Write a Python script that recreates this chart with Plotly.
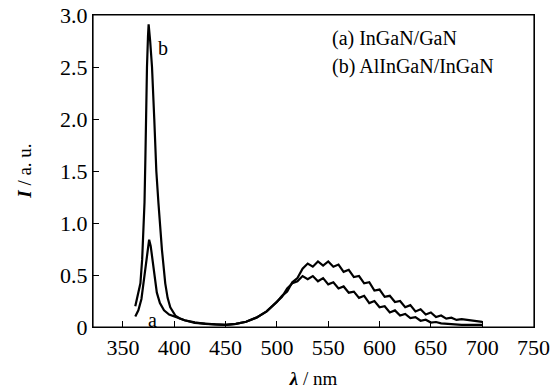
import plotly.graph_objects as go

# Curve a: InGaN/GaN
lam_a = [362, 365, 368, 370, 372, 374, 375.5, 377, 379, 381, 383, 386, 390, 395, 400, 405, 410, 420, 430, 440, 450,
         460, 470, 480, 490, 500, 505, 510, 515, 520, 525, 530, 535, 540, 545, 550, 555, 560, 565, 570, 575, 580,
         585, 590, 595, 600, 605, 610, 615, 620, 625, 630, 635, 640, 645, 650, 655, 660, 665, 670, 675, 680, 690, 700]
int_a = [0.10, 0.16, 0.27, 0.42, 0.60, 0.76, 0.84, 0.78, 0.62, 0.44, 0.33, 0.23, 0.16, 0.12, 0.10, 0.08, 0.065, 0.045, 0.03, 0.025, 0.02,
         0.03, 0.05, 0.09, 0.15, 0.24, 0.30, 0.34, 0.43, 0.47, 0.56, 0.61, 0.58, 0.63, 0.59, 0.63, 0.58, 0.60, 0.53, 0.55, 0.48, 0.49,
         0.42, 0.43, 0.35, 0.36, 0.29, 0.30, 0.24, 0.25, 0.19, 0.21, 0.15, 0.17, 0.12, 0.14, 0.095, 0.11, 0.08, 0.09, 0.068, 0.075, 0.06, 0.05]

# Curve b: AlInGaN/InGaN
lam_b = [362, 364.5, 367, 368.7, 370, 371, 371.8, 372.4, 373.4, 374.4, 375, 376.5, 378.3, 380.5, 382.5, 384.5, 388, 391.2, 393.5,
         396.1, 401, 405, 410, 420, 430, 440, 450, 460, 470, 480, 490, 500, 505, 510, 515, 520, 525, 530, 535, 540, 545, 550,
         555, 560, 565, 570, 575, 580, 585, 590, 595, 600, 605, 610, 615, 620, 625, 630, 635, 640, 645, 650, 655, 660, 670, 680, 690, 700]
int_b = [0.20, 0.30, 0.42, 0.65, 0.90, 1.20, 1.60, 2.00, 2.50, 2.80, 2.91, 2.75, 2.50, 2.00, 1.50, 1.20, 0.74, 0.42, 0.28,
         0.19, 0.11, 0.085, 0.065, 0.04, 0.03, 0.025, 0.02, 0.03, 0.05, 0.09, 0.15, 0.25, 0.29, 0.37, 0.42, 0.44, 0.49, 0.46, 0.49, 0.44, 0.47, 0.41,
         0.43, 0.37, 0.39, 0.33, 0.34, 0.28, 0.30, 0.23, 0.25, 0.19, 0.20, 0.14, 0.16, 0.11, 0.125, 0.085, 0.095, 0.06, 0.07, 0.043, 0.048, 0.035, 0.025, 0.02, 0.02, 0.02]

x_ticks = [350, 400, 450, 500, 550, 600, 650, 700, 750]
y_ticks = [0, 0.5, 1.0, 1.5, 2.0, 2.5, 3.0]
y_ticklabels = ["0", "0.5", "1.0", "1.5", "2.0", "2.5", "3.0"]
legend_lines = ["(a) InGaN/GaN", "(b) AlInGaN/InGaN"]
curve_labels = ["a", "b"]
x_title = "<b><i>λ</i></b> / nm"
y_title = "<b><i>I</i></b> / a. u."

serif = "Liberation Serif, Times New Roman, serif"

fig = go.Figure()
fig.add_trace(go.Scatter(x=lam_a, y=int_a, mode="lines", line=dict(color="black", width=2.2), showlegend=False))
fig.add_trace(go.Scatter(x=lam_b, y=int_b, mode="lines", line=dict(color="black", width=2.2), showlegend=False))

axis_common = dict(showline=True, linecolor="black", linewidth=1.2, mirror=True, showgrid=False, zeroline=False,
                   ticks="inside", ticklen=6, tickcolor="black", tickwidth=1.2, automargin=False,
                   tickfont=dict(family=serif, size=22, color="black"))

fig.update_xaxes(range=[320.8, 750.5], tickvals=x_ticks, **axis_common,
                 title=dict(text=x_title, font=dict(family=serif, size=19, color="black")))
fig.update_yaxes(range=[0, 3.0], tickvals=y_ticks, ticktext=y_ticklabels, **axis_common)

# plot frame
fig.add_shape(type="rect", xref="paper", yref="paper", x0=0, y0=0, x1=1, y1=1,
              line=dict(color="black", width=1.2), layer="above")

fig.add_annotation(x=-0.157, y=0.5, xref="paper", yref="paper", text=y_title, showarrow=False, textangle=-90,
                   xanchor="center", yanchor="middle", font=dict(family=serif, size=19, color="black"))
fig.add_annotation(x=0.538, y=0.925, xref="paper", yref="paper", text=legend_lines[0], showarrow=False,
                   xanchor="left", yanchor="middle", font=dict(family=serif, size=20, color="black"))
fig.add_annotation(x=0.538, y=0.835, xref="paper", yref="paper", text=legend_lines[1], showarrow=False,
                   xanchor="left", yanchor="middle", font=dict(family=serif, size=20, color="black"))
fig.add_annotation(x=378.5, y=0.07, text=curve_labels[0], showarrow=False,
                   xanchor="center", yanchor="middle", font=dict(family=serif, size=20, color="black"))
fig.add_annotation(x=389, y=2.68, text=curve_labels[1], showarrow=False,
                   xanchor="center", yanchor="middle", font=dict(family=serif, size=20, color="black"))

fig.update_layout(width=559, height=389, margin=dict(l=93, r=25, t=15, b=62),
                  paper_bgcolor="white", plot_bgcolor="white")

# remove the default page margin so the figure sits at the top-left corner of the window
fig.write_html("out.html", config={"displayModeBar": False},
               post_script="document.body.style.margin='0px';")
